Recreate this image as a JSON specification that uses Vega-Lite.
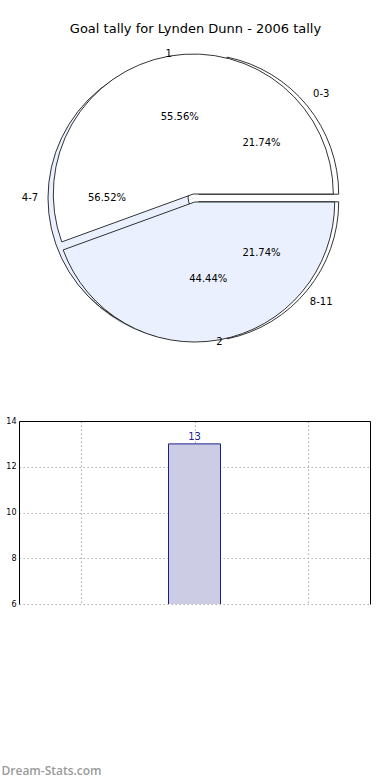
{
  "$schema": "https://vega.github.io/schema/vega-lite/v6.json",
  "padding": {"top": 23, "left": 1, "right": 3, "bottom": 4},
  "background": "white",
  "config": {"view": {"stroke": null}, "font": "DejaVu Sans"},
  "title": {"text": "Goal tally for Lynden Dunn - 2006 tally", "font": "DejaVu Sans", "fontSize": 13, "fontWeight": "normal", "color": "#000000", "anchor": "middle", "offset": 4, "dx": 10},
  "datasets": {
    "outer": [
      {"label": "1", "share": 0.5556, "k": 1},
      {"label": "2", "share": 0.4444, "k": 2}
    ],
    "inner": [
      {"label": "0-3", "share": 0.2174, "k": 1},
      {"label": "4-7", "share": 0.5652, "k": 2},
      {"label": "8-11", "share": 0.2174, "k": 3}
    ],
    "bars": [
      {"year": 2006, "goals": 13}
    ]
  },
  "spacing": 61,
  "vconcat": [
    {
      "width": 350,
      "height": 316,
      "layer": [
        {
          "data": {"name": "outer"},
          "mark": {"type": "arc", "radius": 140, "fill": "#8f8f8f", "xOffset": -3.5, "yOffset": 3},
          "encoding": {
            "theta": {"field": "share", "type": "quantitative", "stack": true, "scale": {"domain": [0, 1], "range": [1.5707963, -4.712389]}},
            "order": {"field": "k"},
            "detail": {"field": "label"}
          }
        },
        {
          "data": {"name": "outer"},
          "mark": {"type": "arc", "radius": 140, "fill": "#ffffff"},
          "encoding": {
            "theta": {"field": "share", "type": "quantitative", "stack": true, "scale": {"domain": [0, 1], "range": [1.5707963, -4.712389]}},
            "order": {"field": "k"},
            "detail": {"field": "label"}
          }
        },
        {
          "data": {"name": "inner"},
          "transform": [
            {"stack": "share", "groupby": [], "sort": [{"field": "k"}], "as": ["s0", "s1"]},
            {"filter": "datum.label == '0-3'"}
          ],
          "mark": {"type": "arc", "radius": 140, "fill": "#ffffff", "stroke": "#000000", "strokeWidth": 0.8, "xOffset": 4.7, "yOffset": -3.8},
          "encoding": {
            "theta": {"field": "s0", "type": "quantitative", "scale": {"domain": [0, 1], "range": [1.5707963, -4.712389]}},
            "theta2": {"field": "s1"}
          }
        },
        {
          "data": {"name": "inner"},
          "transform": [
            {"stack": "share", "groupby": [], "sort": [{"field": "k"}], "as": ["s0", "s1"]},
            {"filter": "datum.label == '4-7'"}
          ],
          "mark": {"type": "arc", "radius": 140, "fill": "#eaf0fd", "stroke": "#000000", "strokeWidth": 0.8, "xOffset": -6, "yOffset": 0},
          "encoding": {
            "theta": {"field": "s0", "type": "quantitative", "scale": {"domain": [0, 1], "range": [1.5707963, -4.712389]}},
            "theta2": {"field": "s1"}
          }
        },
        {
          "data": {"name": "inner"},
          "transform": [
            {"stack": "share", "groupby": [], "sort": [{"field": "k"}], "as": ["s0", "s1"]},
            {"filter": "datum.label == '8-11'"}
          ],
          "mark": {"type": "arc", "radius": 140, "fill": "#ffffff", "stroke": "#000000", "strokeWidth": 0.8, "xOffset": 4.7, "yOffset": 3.8},
          "encoding": {
            "theta": {"field": "s0", "type": "quantitative", "scale": {"domain": [0, 1], "range": [1.5707963, -4.712389]}},
            "theta2": {"field": "s1"}
          }
        },
        {
          "data": {"name": "outer"},
          "transform": [
            {"stack": "share", "groupby": [], "sort": [{"field": "k"}], "as": ["s0", "s1"]},
            {"filter": "datum.label == '1'"}
          ],
          "mark": {"type": "arc", "radius": 140, "fill": "#ffffff", "stroke": "#000000", "strokeWidth": 0.8, "xOffset": -0.7, "yOffset": -4},
          "encoding": {
            "theta": {"field": "s0", "type": "quantitative", "scale": {"domain": [0, 1], "range": [1.5707963, -4.712389]}},
            "theta2": {"field": "s1"}
          }
        },
        {
          "data": {"name": "outer"},
          "transform": [
            {"stack": "share", "groupby": [], "sort": [{"field": "k"}], "as": ["s0", "s1"]},
            {"filter": "datum.label == '2'"}
          ],
          "mark": {"type": "arc", "radius": 140, "fill": "#eaf0fd", "stroke": "#000000", "strokeWidth": 0.8, "xOffset": 0.7, "yOffset": 4},
          "encoding": {
            "theta": {"field": "s0", "type": "quantitative", "scale": {"domain": [0, 1], "range": [1.5707963, -4.712389]}},
            "theta2": {"field": "s1"}
          }
        },
        {
          "data": {"name": "outer"},
          "mark": {"type": "text", "radius": 146, "fontSize": 10, "color": "#000000"},
          "encoding": {
            "theta": {"field": "share", "type": "quantitative", "stack": true, "scale": {"domain": [0, 1], "range": [1.5707963, -4.712389]}},
            "order": {"field": "k"},
            "detail": {"field": "label"},
            "text": {"field": "label"}
          }
        },
        {
          "data": {"name": "outer"},
          "mark": {"type": "text", "radius": 82, "fontSize": 10, "color": "#000000"},
          "encoding": {
            "theta": {"field": "share", "type": "quantitative", "stack": true, "scale": {"domain": [0, 1], "range": [1.5707963, -4.712389]}},
            "order": {"field": "k"},
            "detail": {"field": "label"},
            "text": {"field": "share", "type": "quantitative", "format": ".2%"}
          }
        },
        {
          "data": {"name": "inner"},
          "mark": {"type": "text", "radius": 164, "fontSize": 10, "color": "#000000"},
          "encoding": {
            "theta": {"field": "share", "type": "quantitative", "stack": true, "scale": {"domain": [0, 1], "range": [1.5707963, -4.712389]}},
            "order": {"field": "k"},
            "detail": {"field": "label"},
            "text": {"field": "label"}
          }
        },
        {
          "data": {"name": "inner"},
          "mark": {"type": "text", "radius": 87, "fontSize": 10, "color": "#000000"},
          "encoding": {
            "theta": {"field": "share", "type": "quantitative", "stack": true, "scale": {"domain": [0, 1], "range": [1.5707963, -4.712389]}},
            "order": {"field": "k"},
            "detail": {"field": "label"},
            "text": {"field": "share", "type": "quantitative", "format": ".2%"}
          }
        }
      ]
    },
    {
      "width": 351,
      "height": 183,
      "data": {"name": "bars"},
      "layer": [
        {
          "mark": {"type": "bar", "width": 52, "fill": "#ccccE4", "stroke": "#1c1c8c", "strokeWidth": 1, "clip": true},
          "encoding": {
            "x": {"field": "year", "type": "quantitative", "scale": {"domain": [2004.5, 2007.5], "nice": false, "zero": false},
              "axis": {"orient": "bottom", "values": [2005, 2006, 2007], "grid": true, "gridColor": "#b0b0b0", "gridDash": [1.5, 2.5], "gridWidth": 1.2, "domain": false, "ticks": false, "labels": false,
                "title": "Dream-Stats.com", "titleAnchor": "start", "titleX": -18, "titleY": 166, "titleFont": "Open Sans", "titleFontSize": 12, "titleFontWeight": 600, "titleColor": "#9a9a9a", "titleAlign": "left", "titleBaseline": "middle"}},
            "y": {"field": "goals", "type": "quantitative", "scale": {"domain": [6, 14], "nice": false, "zero": false},
              "axis": {"orient": "left", "values": [6, 8, 10, 12, 14], "grid": true, "gridColor": "#b0b0b0", "gridDash": [1.5, 2.5], "gridWidth": 1.2, "domain": true, "domainColor": "#000000", "ticks": false, "labelFontSize": 8, "labelColor": "#000000", "labelPadding": 3, "title": null}}
          }
        },
        {
          "mark": {"type": "text", "baseline": "bottom", "dy": -2, "fontSize": 10, "color": "#1c1c8c"},
          "encoding": {
            "x": {"field": "year", "type": "quantitative", "scale": {"domain": [2004.5, 2007.5], "nice": false, "zero": false},
              "axis": {"orient": "top", "domain": true, "domainColor": "#000000", "ticks": false, "labels": false, "grid": false, "title": null}},
            "y": {"field": "goals", "type": "quantitative", "scale": {"domain": [6, 14], "nice": false, "zero": false},
              "axis": {"orient": "right", "domain": true, "domainColor": "#000000", "ticks": false, "labels": false, "grid": false, "title": null}},
            "text": {"field": "goals", "type": "quantitative"}
          }
        }
      ],
      "resolve": {"axis": {"x": "independent", "y": "independent"}}
    }
  ]
}
